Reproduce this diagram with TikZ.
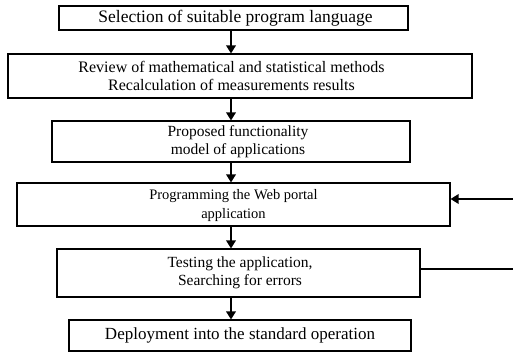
\documentclass[tikz,border=0pt]{standalone}
\usepackage{fontspec}
\setmainfont{Liberation Serif}
\usetikzlibrary{arrows.meta}
\begin{document}
\begin{tikzpicture}[x=1pt,y=-1pt,
  box/.style={draw,line width=1.1pt,inner sep=0pt,anchor=center},
  txt/.style={inner sep=0pt,align=center,anchor=center},
  arr/.style={line width=1.8pt,-{Triangle[length=8pt,width=9.5pt]}},
  ln/.style={line width=1.8pt}]
\useasboundingbox (0,0) rectangle (513,352);
\node[box,minimum width=349pt,minimum height=24pt] (b1) at (233.5,18) {};
\node[box,minimum width=464pt,minimum height=44pt] (b2) at (240,76) {};
\node[box,minimum width=358pt,minimum height=41pt] (b3) at (231,141.5) {};
\node[box,minimum width=433pt,minimum height=43pt] (b4) at (233.5,204.5) {};
\node[box,minimum width=363pt,minimum height=48pt] (b5) at (238.5,273) {};
\node[box,minimum width=342pt,minimum height=31pt] (b6) at (240,335.5) {};
\node[txt,font=\fontsize{17.5}{19}\selectfont,xshift=2pt] (t1) at (b1) {Selection of suitable program language};
\node[txt,font=\fontsize{16}{18.3}\selectfont,xshift=-8.5pt] (t2) at (b2) {Review of mathematical and statistical methods\\Recalculation of measurements results};
\node[txt,font=\fontsize{15.5}{18.5}\selectfont,xshift=7pt] (t3) at (b3) {Proposed functionality\\model of applications};
\node[txt,font=\fontsize{14.5}{18.5}\selectfont,yshift=-1pt] (t4) at (b4) {Programming the Web portal\\application};
\node[txt,font=\fontsize{15.5}{18.5}\selectfont,xshift=1.5pt] (t5) at (b5) {Testing the application,\\Searching for errors};
\node[txt,font=\fontsize{17}{19}\selectfont] (t6) at (b6) {Deployment into the standard operation};
\coordinate (ax) at (231,0);
\coordinate (r1) at (513,199);
\coordinate (r2) at (513,269);
\draw[arr] (b1.south -| ax) -- (b2.north -| ax);
\draw[arr] (b2.south -| ax) -- (b3.north -| ax);
\draw[arr] (b3.south -| ax) -- (b4.north -| ax);
\draw[arr] (b4.south -| ax) -- (b5.north -| ax);
\draw[arr] (b5.south -| ax) -- (b6.north -| ax);
\draw[arr] (r1) -- (b4.east |- r1);
\draw[ln] (b5.east |- r2) -- (r2);
\end{tikzpicture}
\end{document}
